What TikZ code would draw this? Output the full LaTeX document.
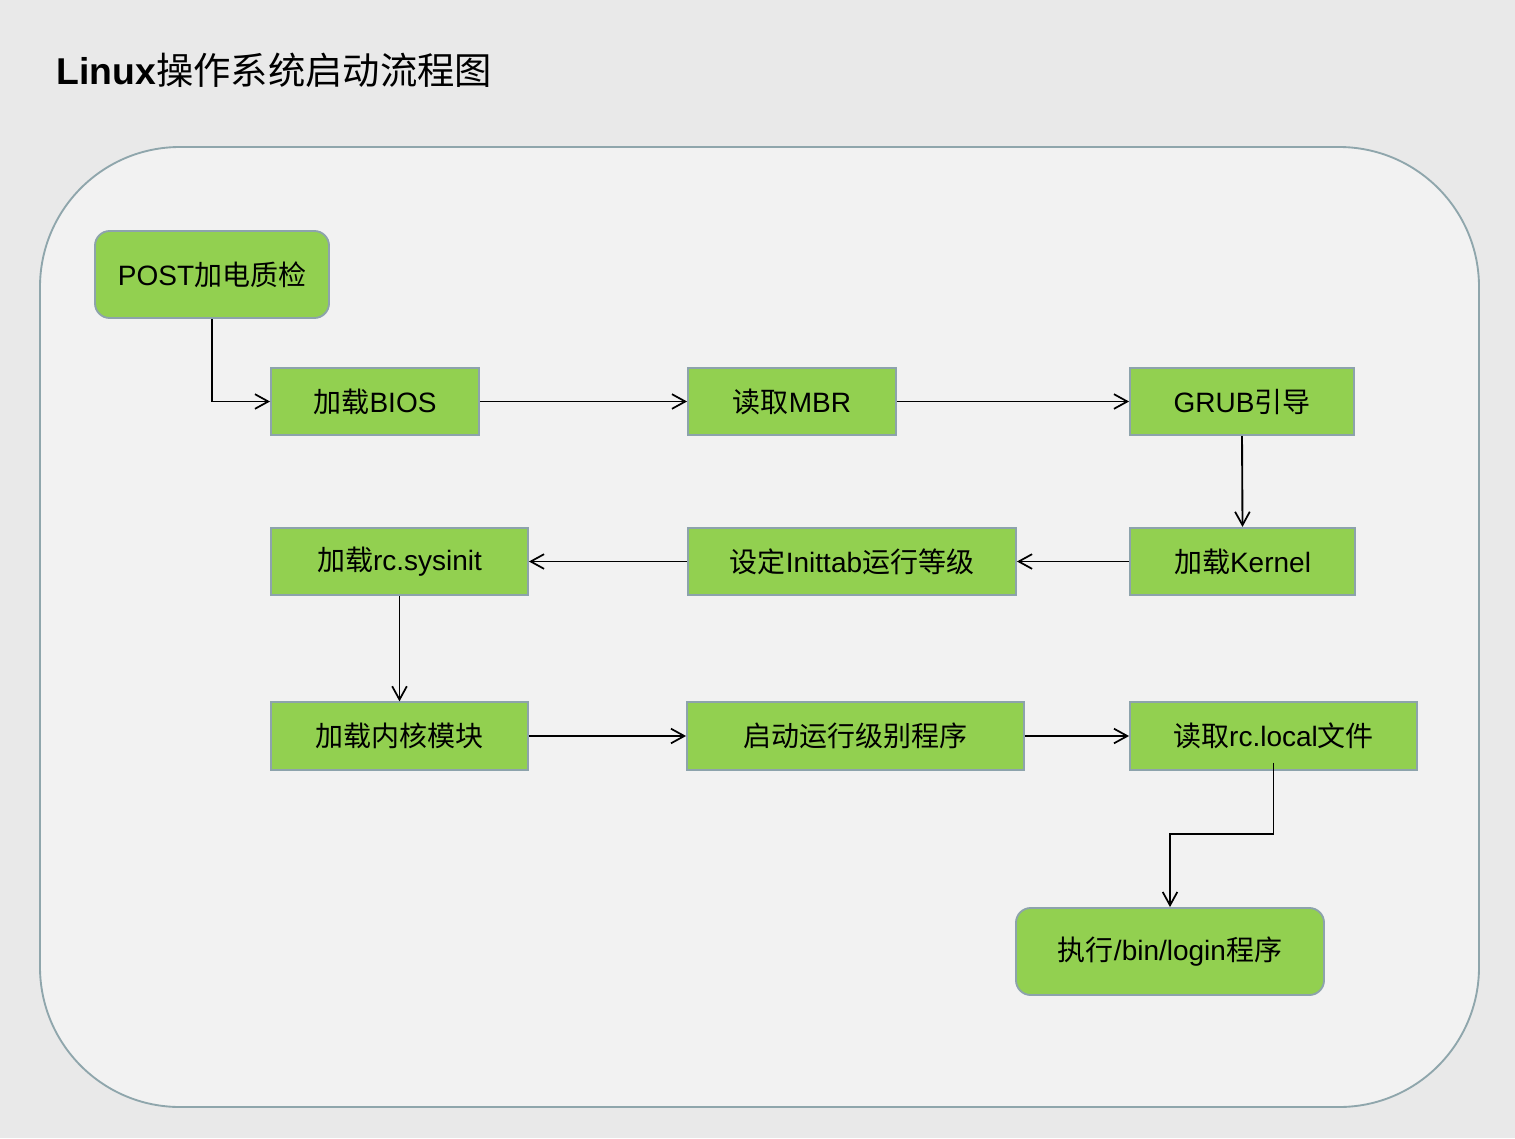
\documentclass[tikz,border=0pt]{standalone}
\usepackage{fontspec}
\setmainfont{Liberation Sans}
\newfontfamily\cjk{Noto Sans CJK SC}
\usetikzlibrary{arrows.meta,calc}
\definecolor{pagebg}{HTML}{E9E9E9}
\definecolor{panelbg}{HTML}{F2F2F2}
\definecolor{panelline}{HTML}{8FA6AC}
\definecolor{boxfill}{HTML}{92D050}
\definecolor{boxline}{HTML}{8DA3AC}
\begin{document}
\begin{tikzpicture}[x=0.75pt,y=-0.75pt,
  box/.style={draw=boxline,fill=boxfill,line width=1.4pt,inner sep=0pt,
    minimum height=50.5pt,font=\fontsize{21}{25}\selectfont,text=black},
  rbox/.style={box,rounded corners=11pt,minimum height=65.25pt},
  arr/.style={draw=black,line width=1.4pt,-{Straight Barb[length=10pt,width=11pt,line width=1.3pt]}}]
\useasboundingbox (0,0) rectangle (1515,1138);
\fill[pagebg] (0,0) rectangle (1515,1138);
\draw[fill=panelbg,draw=panelline,line width=1.4pt,rounded corners=105pt] (40,147) rectangle (1479,1107);
\node[anchor=west,font=\fontsize{28}{32}\selectfont] (title) at (52,70) {\textbf{Linux}{\cjk 操作系统启动流程图}};
\node[rbox,minimum width=175.5pt] (post) at (212,274.5) {POST{\cjk 加电质检}};
\node[box,minimum width=156pt] (bios) at (375,401.5) {{\cjk 加载}BIOS};
\node[box,minimum width=156pt] (mbr) at (792,401.5) {{\cjk 读取}MBR};
\node[box,minimum width=168pt] (grub) at (1242,401.5) {GRUB{\cjk 引导}};
\node[box,minimum width=168.75pt] (kernel) at (1242.5,561.5) {{\cjk 加载}Kernel};
\node[box,minimum width=246pt] (inittab) at (852,561.5) {{\cjk 设定}Inittab{\cjk 运行等级}};
\node[box,minimum width=192.75pt] (sysinit) at (399.5,561.5) {{\cjk 加载}rc.sysinit};
\node[box,minimum width=192.75pt] (modules) at (399.5,736) {{\cjk 加载内核模块}};
\node[box,minimum width=252.75pt] (runlevel) at (855.5,736) {{\cjk 启动运行级别程序}};
\node[box,minimum width=215.25pt] (rclocal) at (1273.5,736) {{\cjk 读取}rc.local{\cjk 文件}};
\node[rbox,minimum width=231pt] (login) at (1170,951.5) {{\cjk 执行}/bin/login{\cjk 程序}};
\coordinate (mid) at (0,834);
\coordinate (rcstart) at ([yshift=6pt]rclocal.south);
\draw[arr] (post.south) |- (bios.west);
\draw[arr] (bios.east) -- (mbr.west);
\draw[arr] (mbr.east) -- (grub.west);
\draw[arr] (grub.south) -- (kernel.north);
\draw[arr] (kernel.west) -- (inittab.east);
\draw[arr] (inittab.west) -- (sysinit.east);
\draw[arr] (sysinit.south) -- (modules.north);
\draw[arr] (modules.east) -- (runlevel.west);
\draw[arr] (runlevel.east) -- (rclocal.west);
\draw[arr] (rcstart) -- (rcstart |- mid) -- (login.north |- mid) -- (login.north);
\end{tikzpicture}
\end{document}
